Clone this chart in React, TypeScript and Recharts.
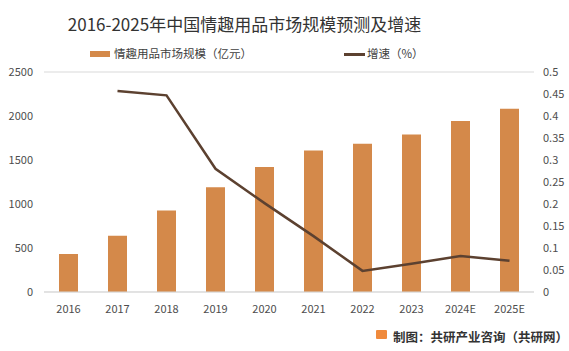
import { ComposedChart, Bar, Line, XAxis, YAxis, CartesianGrid } from 'recharts'

const years = ['2016', '2017', '2018', '2019', '2020', '2021', '2022', '2023', '2024E', '2025E']
const marketSize = [432, 640, 927, 1189, 1420, 1609, 1685, 1791, 1943, 2083]
const growth = [null, 0.457, 0.447, 0.28, 0.202, 0.127, 0.048, 0.064, 0.082, 0.071]
const leftTicks = [0, 500, 1000, 1500, 2000, 2500]
const rightTicks = [0, 0.05, 0.1, 0.15, 0.2, 0.25, 0.3, 0.35, 0.4, 0.45, 0.5]

const data = years.map((year, i) => ({ year, size: marketSize[i], growth: growth[i] }))

const FONT = '"Noto Sans CJK SC", "Noto Sans", sans-serif'
const BAR = '#D4894A'
const LINE = '#5C4130'
const tickStyle = { fill: '#4D4D4D', fontSize: 11, fontFamily: FONT }

export default function App() {
  return (
    <div style={{ position: 'absolute', left: 0, top: 0, width: 569, height: 351, background: '#fff', fontFamily: FONT }}>
      <div style={{ position: 'absolute', left: 0, top: 11, width: 489, textAlign: 'center', fontSize: 17, color: '#333', whiteSpace: 'nowrap' }}>
        2016-2025年中国情趣用品市场规模预测及增速
      </div>

      {/* legend */}
      <div style={{ position: 'absolute', left: 90, top: 51, width: 20, height: 6, background: BAR }} />
      <div style={{ position: 'absolute', left: 114, top: 45, fontSize: 11.5, color: '#404040', whiteSpace: 'nowrap' }}>
        情趣用品市场规模（亿元）
      </div>
      <div style={{ position: 'absolute', left: 344, top: 53, width: 21, height: 2.5, background: LINE }} />
      <div style={{ position: 'absolute', left: 367, top: 45, fontSize: 11.5, color: '#404040', whiteSpace: 'nowrap' }}>
        增速（%）
      </div>

      <ComposedChart
        width={569}
        height={351}
        data={data}
        margin={{ top: 72, right: 0, bottom: 24, left: 0 }}
      >
        <CartesianGrid stroke="#D9D9D9" vertical={false} />
        <XAxis
          dataKey="year"
          axisLine={{ stroke: '#D9D9D9' }}
          tickLine={false}
          tick={tickStyle}
          tickMargin={7}
          height={35}
          interval={0}
        />
        <YAxis
          yAxisId="size"
          domain={[0, 2500]}
          ticks={leftTicks}
          axisLine={false}
          tickLine={false}
          tick={tickStyle}
          tickMargin={5}
          width={44}
        />
        <YAxis
          yAxisId="growth"
          orientation="right"
          domain={[0, 0.5]}
          ticks={rightTicks}
          axisLine={false}
          tickLine={false}
          tick={tickStyle}
          tickMargin={3}
          width={35}
        />
        <Bar yAxisId="size" dataKey="size" fill={BAR} barSize={19} isAnimationActive={false} />
        <Line
          yAxisId="growth"
          type="linear"
          dataKey="growth"
          stroke={LINE}
          strokeWidth={2.5}
          dot={false}
          connectNulls={false}
          isAnimationActive={false}
        />
      </ComposedChart>

      {/* footer */}
      <div style={{ position: 'absolute', left: 376, top: 330, width: 11, height: 9, background: '#F08A3C', borderRadius: 1 }} />
      <div style={{ position: 'absolute', left: 393, top: 327, fontSize: 12.5, fontWeight: 'bold', color: '#333', whiteSpace: 'nowrap' }}>
        制图：共研产业咨询（共研网）
      </div>
    </div>
  )
}
